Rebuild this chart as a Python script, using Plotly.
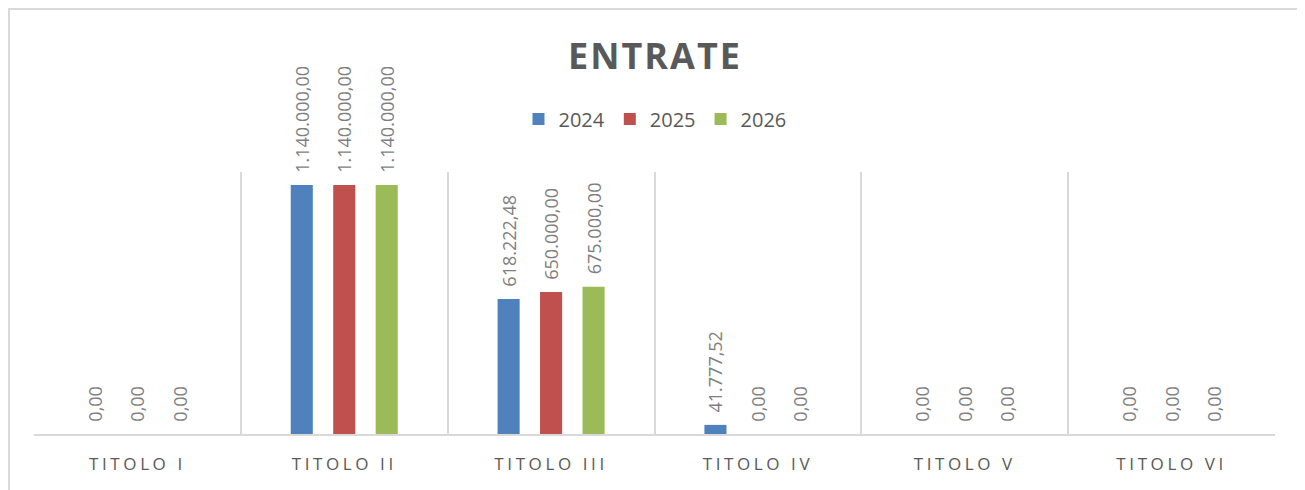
import plotly.graph_objects as go

categories = ["TITOLO I", "TITOLO II", "TITOLO III", "TITOLO IV", "TITOLO V", "TITOLO VI"]
years = ["2024", "2025", "2026"]
values_2024 = [0.00, 1140000.00, 618222.48, 41777.52, 0.00, 0.00]
values_2025 = [0.00, 1140000.00, 650000.00, 0.00, 0.00, 0.00]
values_2026 = [0.00, 1140000.00, 675000.00, 0.00, 0.00, 0.00]
colors = ["#4F81BD", "#C0504D", "#9BBB59"]


def fmt_it(v):
    s = f"{v:,.2f}"
    return s.replace(",", "X").replace(".", ",").replace("X", ".")


PAD = "\u00a0\u00a0"

# page body has an 8px margin, so the figure is offset by 8px
W, H = 1297, 482
L, R, T, B = 26, 30, 164, 56
PW, PH = W - L - R, H - T - B
FONT = "Open Sans, Noto Sans, sans-serif"

fig = go.Figure()
for name, vals, col in zip(years, [values_2024, values_2025, values_2026], colors):
    fig.add_trace(go.Bar(
        name=name,
        x=categories,
        y=vals,
        marker=dict(color=col, line=dict(width=0)),
        text=[PAD + fmt_it(v) for v in vals],
        textposition="outside",
        textangle=-90,
        constraintext="none",
        cliponaxis=False,
        textfont=dict(family=FONT, size=18, color="#7F7F7F"),
        hoverinfo="skip",
    ))

ticktext = ['<span style="letter-spacing:3.6px">' + c + '</span>' for c in categories]

fig.update_layout(
    width=W, height=H,
    margin=dict(l=L, r=R, t=T, b=B, pad=0),
    paper_bgcolor="white",
    plot_bgcolor="white",
    barmode="group",
    bargap=0.384,
    bargroupgap=0.48,
    title=dict(
        text='<b><span style="letter-spacing:2px">ENTRATE</span></b>',
        x=(655 - 8 - L) / PW, xref="paper", xanchor="center",
        y=1 - 48 / H, yref="container", yanchor="middle",
        font=dict(family=FONT, size=36, color="#595959"),
    ),
    legend=dict(
        orientation="h",
        x=(655 - 8 - L) / PW, xanchor="center",
        y=1 + 53 / PH, yanchor="middle",
        font=dict(family=FONT, size=20, color="#595959"),
        traceorder="normal",
    ),
    xaxis=dict(
        type="category",
        tickmode="array",
        tickvals=categories,
        ticktext=ticktext,
        tickson="boundaries",
        showgrid=True,
        gridcolor="#D9D9D9",
        gridwidth=2,
        showline=True,
        linecolor="#D9D9D9",
        linewidth=2,
        ticks="",
        ticklabelstandoff=14,
        tickfont=dict(family=FONT, size=17, color="#595959"),
        range=[-0.5, 5.5],
        fixedrange=True,
    ),
    yaxis=dict(
        range=[0, 1200000],
        showticklabels=False,
        showgrid=False,
        zeroline=False,
        showline=False,
        fixedrange=True,
    ),
    shapes=[dict(
        type="rect", xref="paper", yref="paper",
        x0=-(L - 1) / PW, x1=(PW + R - 2) / PW,
        y0=-(B + 4) / PH,
        y1=(PH + T - 1) / PH,
        line=dict(color="#D9D9D9", width=2),
        fillcolor="rgba(0,0,0,0)",
        layer="below",
    )],
)

fig.write_html("out.html")
